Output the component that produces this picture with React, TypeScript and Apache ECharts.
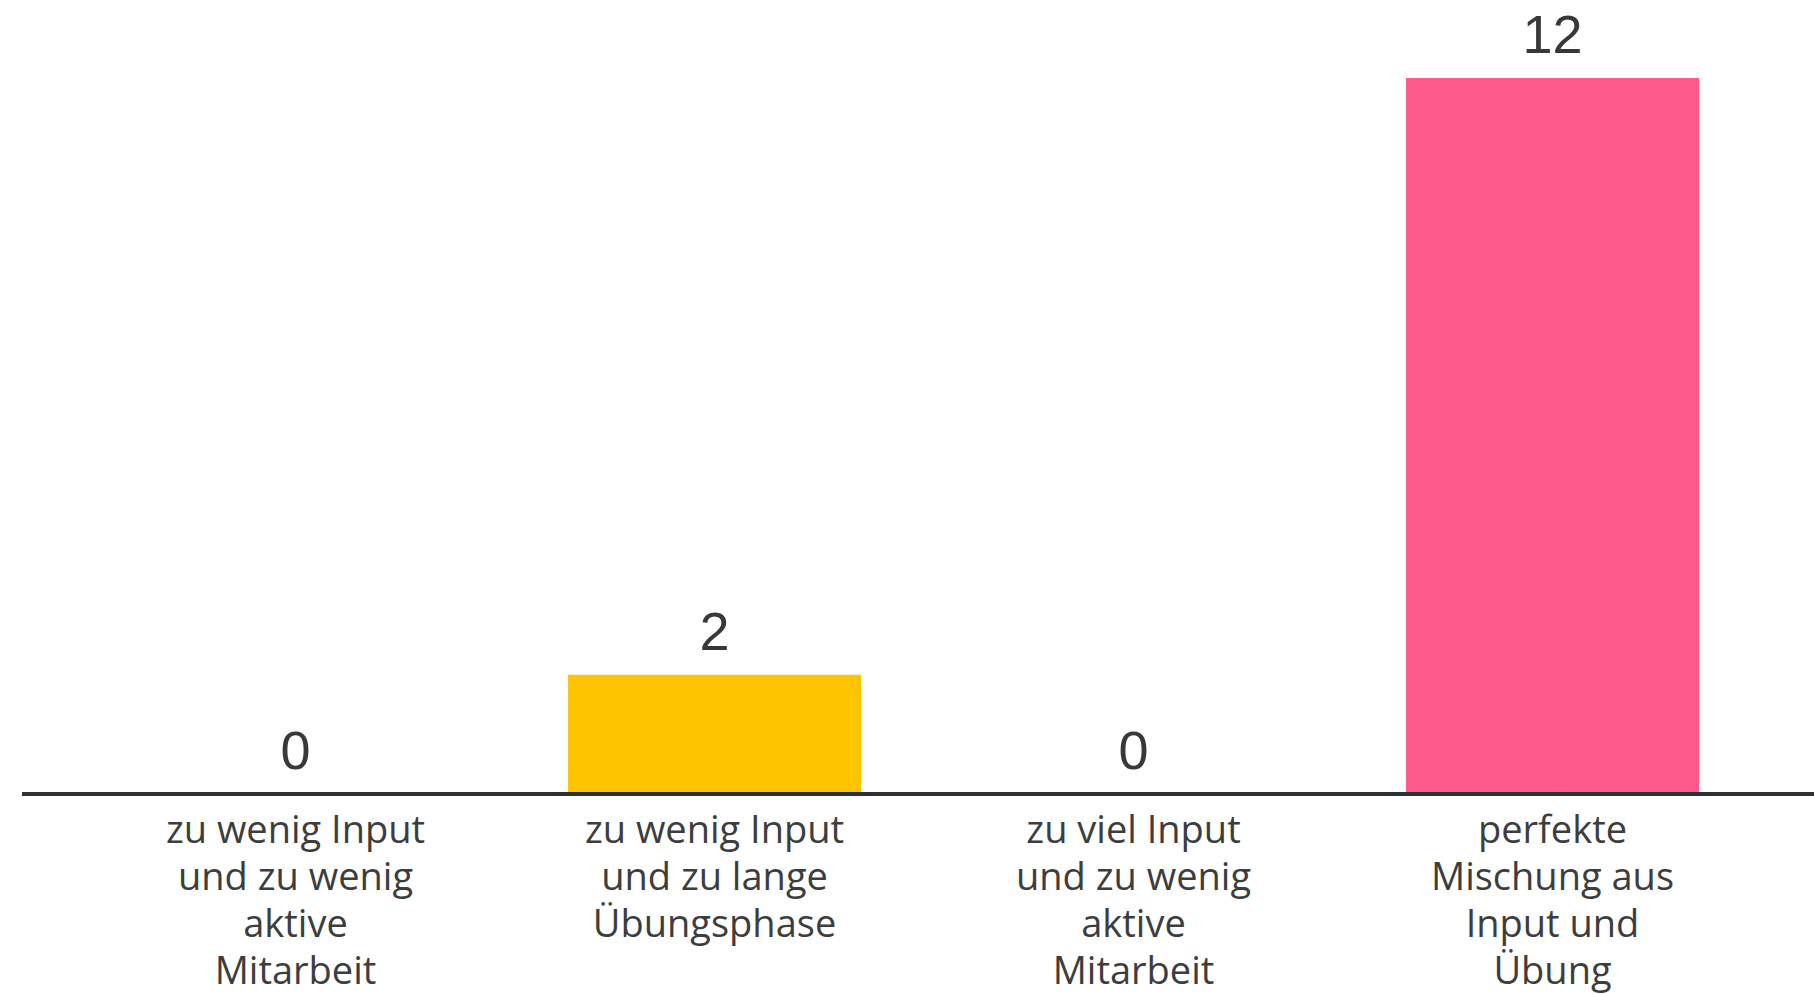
import React, { useEffect, useRef } from "react";
import * as echarts from "echarts";

const categories = [
  "zu wenig Input\nund zu wenig\naktive\nMitarbeit",
  "zu wenig Input\nund zu lange\nÜbungsphase",
  "zu viel Input\nund zu wenig\naktive\nMitarbeit",
  "perfekte\nMischung aus\nInput und\nÜbung",
];
const values = [0, 2, 0, 12];
const barColors = ["#FFC400", "#FFC400", "#FFC400", "#FF5A8C"];

export default function App() {
  const ref = useRef<HTMLDivElement>(null);
  useEffect(() => {
    if (!ref.current) return;
    const chart = echarts.init(ref.current, null, { renderer: "svg" });
    chart.setOption({
      animation: false,
      backgroundColor: "#ffffff",
      grid: { left: 86, right: 52, top: 78, bottom: 200 },
      xAxis: {
        type: "category",
        data: categories,
        axisLine: { show: false },
        axisTick: { show: false },
        axisLabel: {
          interval: 0,
          margin: 10,
          fontFamily: "Open Sans",
          fontSize: 38,
          lineHeight: 47,
          color: "#3d3d3d",
          align: "center",
        },
      },
      yAxis: {
        type: "value",
        min: 0,
        max: 12,
        show: false,
        splitLine: { show: false },
      },
      series: [
        {
          type: "bar",
          barWidth: 293,
          data: values.map((v, i) => ({ value: v, itemStyle: { color: barColors[i] } })),
          label: {
            show: true,
            position: "top",
            distance: 17,
            fontFamily: "Liberation Sans",
            fontSize: 54,
            lineHeight: 54,
            color: "#383838",
          },
        },
      ],
      graphic: [
        {
          type: "line",
          z: 100,
          shape: { x1: 22, y1: 794, x2: 1814, y2: 794 },
          style: { stroke: "#2e3133", lineWidth: 4 },
        },
      ],
    });
    return () => chart.dispose();
  }, []);
  return (
    <div
      ref={ref}
      style={{ position: "absolute", left: 0, top: 0, width: 1814, height: 994 }}
    />
  );
}
